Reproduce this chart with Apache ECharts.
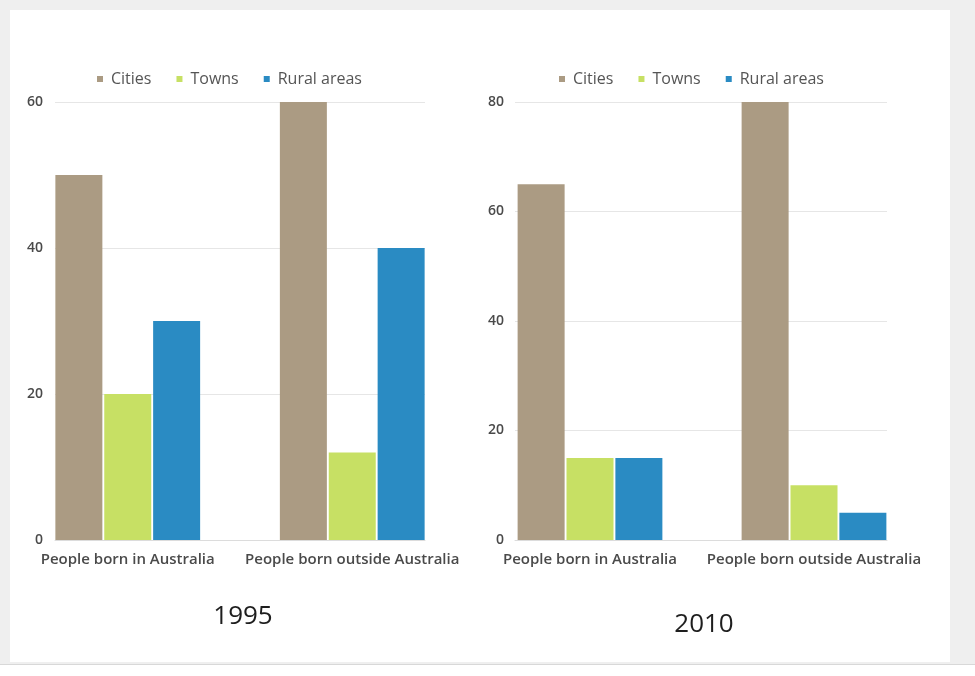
<!DOCTYPE html>
<html><head><meta charset="utf-8">
<script src="https://cdn.jsdelivr.net/npm/echarts@6/dist/echarts.min.js"></script>
<style>
html,body{margin:0;padding:0;width:975px;height:676px;background:#fff;overflow:hidden}
#bg{position:absolute;left:0;top:0;width:975px;height:664px;background:#efefef;border-bottom:1px solid #d8d8d8}
#panel{position:absolute;left:10px;top:10px;width:940px;height:652px;background:#fff}
#chart{position:absolute;left:0;top:0;width:975px;height:676px}
</style></head><body>
<div id="bg"></div><div id="panel"></div><div id="chart"></div>
<script>
const categories = ["People born in Australia", "People born outside Australia"];
const seriesNames = ["Cities", "Towns", "Rural areas"];
const years = ["1995", "2010"];
const cities1995 = [50, 60];
const towns1995 = [20, 12];
const rural1995 = [30, 40];
const cities2010 = [65, 80];
const towns2010 = [15, 10];
const rural2010 = [15, 5];
const yMax1995 = 60, yStep1995 = 20;
const yMax2010 = 80, yStep2010 = 20;

const colors = ["#ab9b83", "#c7e064", "#2a8bc3"];
const font = "Open Sans";

const chart = echarts.init(document.getElementById('chart'), null, {renderer: 'canvas'});

function splitGridAxes(gi, max, step, margin) {
  return {
    x: {type: 'category', gridIndex: gi, data: categories, axisLabel: {show: false}, axisTick: {show: false},
        axisLine: {show: true, lineStyle: {color: '#dcdcdc', width: 1}}, splitLine: {show: false}},
    y: {type: 'value', gridIndex: gi, min: 0, max: max, interval: step,
        axisLine: {show: false}, axisTick: {show: false},
        axisLabel: {color: '#4a4a4a', fontFamily: font, fontSize: 14, fontWeight: 600, margin: margin},
        splitLine: {lineStyle: {color: '#e6e6e6', width: 1}}}
  };
}
function barGridAxes(gi, max) {
  return {
    x: {type: 'category', gridIndex: gi, data: categories, axisTick: {show: false}, axisLine: {show: false},
        axisLabel: {color: '#4a4a4a', fontFamily: font, fontSize: 15, fontWeight: 600, margin: 12, interval: 0}},
    y: {type: 'value', gridIndex: gi, min: 0, max: max, show: false, splitLine: {show: false}}
  };
}
const a0 = splitGridAxes(0, yMax1995, yStep1995, 12);
const a1 = barGridAxes(1, yMax1995);
const a2 = splitGridAxes(2, yMax2010, yStep2010, 11);
const a3 = barGridAxes(3, yMax2010);

function bars(name, data, idx, axisIdx) {
  return {name: name, type: 'bar', xAxisIndex: axisIdx, yAxisIndex: axisIdx, data: data,
          barWidth: 47, barGap: '4%', itemStyle: {color: colors[idx]}, animation: false};
}

const legendCommon = {
  data: seriesNames, icon: 'rect', itemWidth: 6, itemHeight: 6, itemGap: 25, padding: 0,
  textStyle: {color: '#555', fontFamily: font, fontSize: 16, padding: [0, 0, 0, 3]}, top: 71
};

const titleStyle = {fontFamily: font, fontSize: 26, fontWeight: 'normal', color: '#1e1e1e'};

chart.setOption({
  animation: false,
  textStyle: {fontFamily: font},
  color: colors,
  title: [
    {text: years[0], left: 243, top: 604, textAlign: 'center', padding: 0, textStyle: titleStyle},
    {text: years[1], left: 704, top: 612, textAlign: 'center', padding: 0, textStyle: titleStyle}
  ],
  legend: [
    Object.assign({left: 97}, legendCommon),
    Object.assign({left: 559}, legendCommon)
  ],
  grid: [
    {left: 55, width: 370, top: 102, height: 438},
    {left: 15.5, width: 449, top: 102, height: 438},
    {left: 515, width: 372, top: 102, height: 438},
    {left: 478, width: 448, top: 102, height: 438}
  ],
  xAxis: [a0.x, a1.x, a2.x, a3.x],
  yAxis: [a0.y, a1.y, a2.y, a3.y],
  series: [
    bars(seriesNames[0], cities1995, 0, 1),
    bars(seriesNames[1], towns1995, 1, 1),
    bars(seriesNames[2], rural1995, 2, 1),
    bars(seriesNames[0], cities2010, 0, 3),
    bars(seriesNames[1], towns2010, 1, 3),
    bars(seriesNames[2], rural2010, 2, 3)
  ]
});
</script>
</body></html>
